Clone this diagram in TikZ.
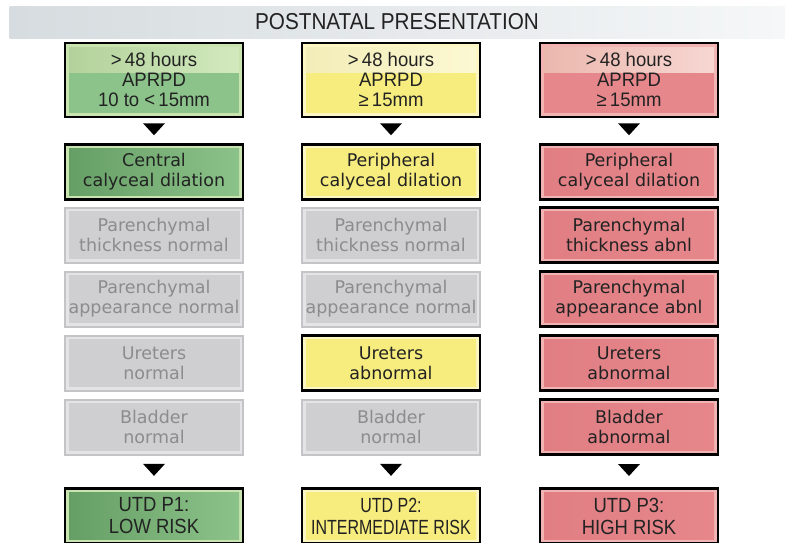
\documentclass[tikz,border=0pt]{standalone}
\usepackage{fontspec}
\setmainfont{DejaVu Sans}
\newfontfamily\boxfont[FakeStretch=0.95]{Liberation Sans}
\newfontfamily\narrowfont[FakeStretch=0.9]{Liberation Sans}
\newfontfamily\tightfont[FakeStretch=0.78]{Liberation Sans}
\newfontfamily\headfont[FakeStretch=0.9]{Liberation Sans}
\usetikzlibrary{calc}

\definecolor{greenmain}{HTML}{8CC38A}
\definecolor{greendark}{HTML}{659E64}
\definecolor{greenrim}{HTML}{C9E4AE}
\definecolor{greenbandl}{HTML}{B3D29B}
\definecolor{greenbandr}{HTML}{D2E9BE}
\definecolor{yellowmain}{HTML}{F7EC7E}
\definecolor{yellowrim}{HTML}{FCF6C4}
\definecolor{yellowbandl}{HTML}{F3EDB8}
\definecolor{yellowbandr}{HTML}{FCF8D2}
\definecolor{redmain}{HTML}{E6878B}
\definecolor{reddark}{HTML}{E07E83}
\definecolor{redrim}{HTML}{F2B4B2}
\definecolor{redbandl}{HTML}{EBB8AE}
\definecolor{redbandr}{HTML}{F7D6D2}
\definecolor{idlefill}{HTML}{CFCFD1}
\definecolor{idlerim}{HTML}{E4E4E6}
\definecolor{idleedge}{HTML}{C4C4C6}
\definecolor{idletext}{HTML}{8C8C8E}
\definecolor{inktext}{HTML}{222222}
\definecolor{titleleft}{HTML}{D6DCDF}
\definecolor{titleright}{HTML}{F5F7F8}

\newcommand{\dropmark}[2]{\fill ($(#1.south)!0.5!(#2.north)+(-11,-7.5)$) -- ++(22,0) -- ++(-11,12) -- cycle;}

\tikzset{
  stage/.style={minimum width=178pt, minimum height=55pt, inner sep=0pt, align=center,
    font=\fontsize{17.5}{20}\selectfont},
  live/.style n args={3}{stage, draw=black, line width=2.6pt, fill=#1, text=inktext,
    path picture={\shade[left color=#2, right color=#3]
      ([shift={(4pt,-4pt)}]path picture bounding box.north west) rectangle
      ([shift={(-4pt,4pt)}]path picture bounding box.south east);}},
  idle/.style={stage, draw=idleedge, line width=2pt, fill=idlerim, text=idletext,
    path picture={\fill[idlefill]
      ([shift={(3.5pt,-3.5pt)}]path picture bounding box.north west) rectangle
      ([shift={(-3.5pt,3.5pt)}]path picture bounding box.south east);}},
  entry/.style n args={4}{stage, minimum height=74pt, draw=black, line width=2.6pt,
    fill=#1, text=inktext, font=\boxfont\fontsize{19.5}{20}\selectfont,
    path picture={
      \fill[#4] ([shift={(4pt,-4pt)}]path picture bounding box.north west) rectangle
        ([shift={(-4pt,4pt)}]path picture bounding box.south east);
      \shade[left color=#2, right color=#3]
        ([shift={(4pt,-4pt)}]path picture bounding box.north west) rectangle
        ([shift={(-4pt,-29pt)}]path picture bounding box.north east);}},
  verdict/.style={font=\narrowfont\fontsize{20.5}{22}\selectfont},
  squeezed/.style={font=\tightfont\fontsize{20.5}{22}\selectfont}
}

\begin{document}
\begin{tikzpicture}[x=1pt,y=-1pt]
\useasboundingbox (0,0) rectangle (790,542);
\clip (0,0) rectangle (790,542);

\node[minimum width=775pt, minimum height=32pt, inner sep=0pt, left color=titleleft,
  right color=titleright, text=inktext, font=\headfont\fontsize{23}{23}\selectfont]
  (title) at (397,22) {POSTNATAL PRESENTATION};

% low risk
\node[entry={greenrim}{greenbandl}{greenbandr}{greenmain}] (apr1) at (154,80)
  {>\,48 hours\\APRPD\\10 to <\,15mm};
\node[live={greenrim}{greendark}{greenmain}] (cal1) at (154,172) {Central\\calyceal dilation};
\node[idle] (thk1) at (154,235) {Parenchymal\\thickness normal};
\node[idle] (app1) at (154,299) {Parenchymal\\appearance normal};
\node[idle] (ure1) at (154,363) {Ureters\\normal};
\node[idle] (bla1) at (154,427) {Bladder\\normal};
\node[live={greenrim}{greendark}{greenmain}, verdict] (utd1) at (154,516) {UTD P1:\\LOW RISK};

% intermediate risk
\node[entry={yellowrim}{yellowbandl}{yellowbandr}{yellowmain}] (apr2) at (391,80)
  {>\,48 hours\\APRPD\\≥\,15mm};
\node[live={yellowrim}{yellowmain}{yellowmain}] (cal2) at (391,172) {Peripheral\\calyceal dilation};
\node[idle] (thk2) at (391,235) {Parenchymal\\thickness normal};
\node[idle] (app2) at (391,299) {Parenchymal\\appearance normal};
\node[live={yellowrim}{yellowmain}{yellowmain}] (ure2) at (391,363) {Ureters\\abnormal};
\node[idle] (bla2) at (391,427) {Bladder\\normal};
\node[live={yellowrim}{yellowmain}{yellowmain}, squeezed] (utd2) at (391,516)
  {UTD P2:\\INTERMEDIATE RISK};

% high risk
\node[entry={redrim}{redbandl}{redbandr}{redmain}] (apr3) at (629,80)
  {>\,48 hours\\APRPD\\≥\,15mm};
\node[live={redrim}{reddark}{redmain}] (cal3) at (629,172) {Peripheral\\calyceal dilation};
\node[live={redrim}{reddark}{redmain}] (thk3) at (629,235) {Parenchymal\\thickness abnl};
\node[live={redrim}{reddark}{redmain}] (app3) at (629,299) {Parenchymal\\appearance abnl};
\node[live={redrim}{reddark}{redmain}] (ure3) at (629,363) {Ureters\\abnormal};
\node[live={redrim}{reddark}{redmain}] (bla3) at (629,427) {Bladder\\abnormal};
\node[live={redrim}{reddark}{redmain}, verdict] (utd3) at (629,516) {UTD P3:\\HIGH RISK};

\foreach \c in {1,2,3}{
  \dropmark{apr\c}{cal\c}
  \dropmark{bla\c}{utd\c}
}
\end{tikzpicture}
\end{document}
